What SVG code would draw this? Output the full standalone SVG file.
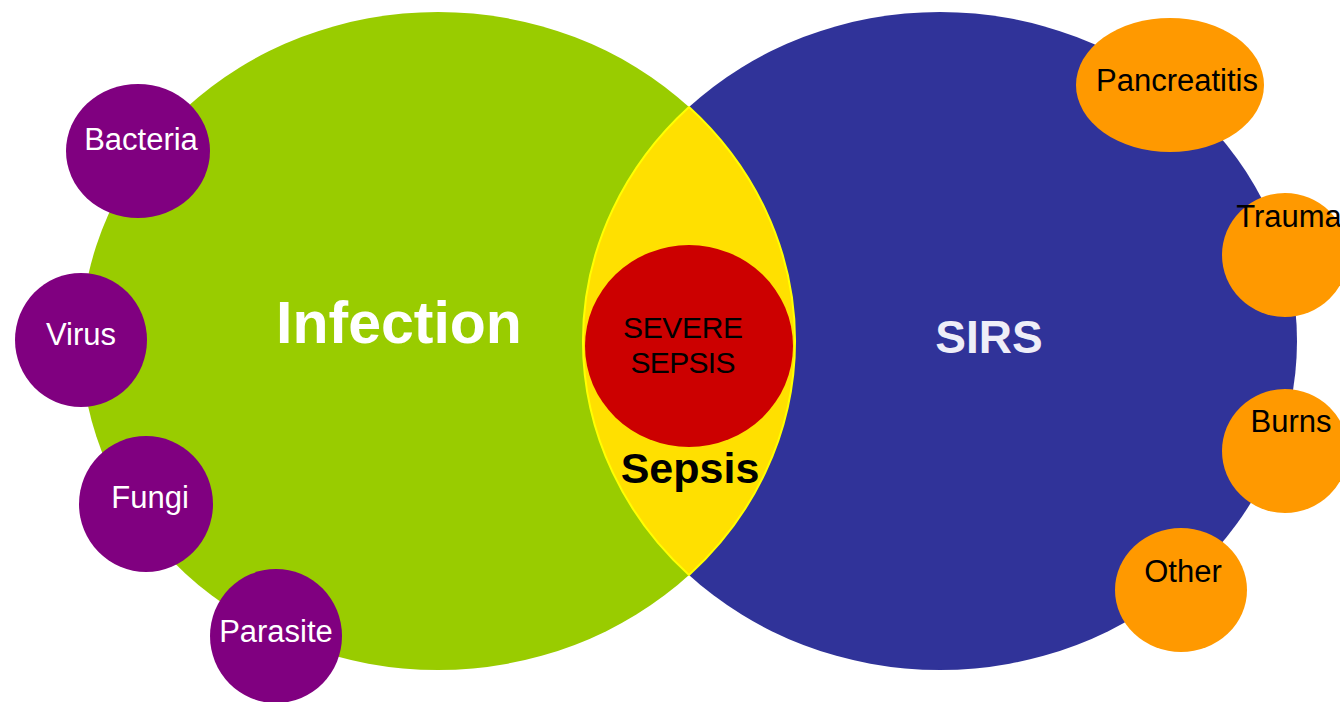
<svg xmlns="http://www.w3.org/2000/svg" width="1340" height="702" viewBox="0 0 1340 702">
<style>
.lbl{font-family:"Liberation Sans",Arial,sans-serif;font-size:31px;text-anchor:middle}
.w{fill:#ffffff}
.k{fill:#000000}
.purple{fill:#800080}
.orange{fill:#ff9900}
</style>
<rect width="1340" height="702" fill="#ffffff"/>
<g id="infection">
<ellipse cx="438" cy="341" rx="357" ry="329" fill="#99cc00"/>
</g>
<g id="sirs">
<ellipse cx="940" cy="341" rx="357" ry="329" fill="#303399"/>
</g>
<g id="sepsis">
<path d="M689,107 A357,329 0 0 1 689,575 A357,329 0 0 1 689,107 Z" fill="#ffe000" stroke="#ffff00" stroke-width="2"/>
</g>
<g id="severe-sepsis">
<ellipse cx="689" cy="346" rx="104" ry="101" fill="#cc0000"/>
</g>
<g id="labels-main">
<text x="399" y="343" style="font-family:'Liberation Sans',Arial,sans-serif;font-size:59px;font-weight:bold;text-anchor:middle" fill="#ffffff">Infection</text>
<text x="989" y="353" style="font-family:'Liberation Sans',Arial,sans-serif;font-size:46px;font-weight:bold;text-anchor:middle" fill="#eeeef8">SIRS</text>
<text x="683" y="338" class="lbl k" style="font-size:30px" textLength="120">SEVERE</text>
<text x="683" y="373" class="lbl k" style="font-size:30px" textLength="105">SEPSIS</text>
<text x="690" y="483" style="font-family:'Liberation Sans',Arial,sans-serif;font-size:43px;font-weight:bold;text-anchor:middle" fill="#000000">Sepsis</text>
</g>
<g id="bacteria">
<ellipse cx="138" cy="151" rx="72" ry="67" class="purple"/>
<text x="141" y="150" class="lbl w">Bacteria</text>
</g>
<g id="virus">
<ellipse cx="81" cy="340" rx="66" ry="67" class="purple"/>
<text x="81" y="345" class="lbl w">Virus</text>
</g>
<g id="fungi">
<ellipse cx="146" cy="504" rx="67" ry="68" class="purple"/>
<text x="150" y="508" class="lbl w">Fungi</text>
</g>
<g id="parasite">
<ellipse cx="276" cy="636" rx="66" ry="67" class="purple"/>
<text x="276" y="642" class="lbl w">Parasite</text>
</g>
<g id="pancreatitis">
<ellipse cx="1170" cy="85" rx="94" ry="67" class="orange"/>
<text x="1177" y="91" class="lbl k">Pancreatitis</text>
</g>
<g id="trauma">
<ellipse cx="1285" cy="255" rx="63" ry="62" class="orange"/>
<text x="1289" y="227" class="lbl k">Trauma</text>
</g>
<g id="burns">
<ellipse cx="1285" cy="451" rx="63" ry="62" class="orange"/>
<text x="1291" y="432" class="lbl k">Burns</text>
</g>
<g id="other">
<ellipse cx="1181" cy="590" rx="66" ry="62" class="orange"/>
<text x="1183" y="582" class="lbl k">Other</text>
</g>
</svg>
